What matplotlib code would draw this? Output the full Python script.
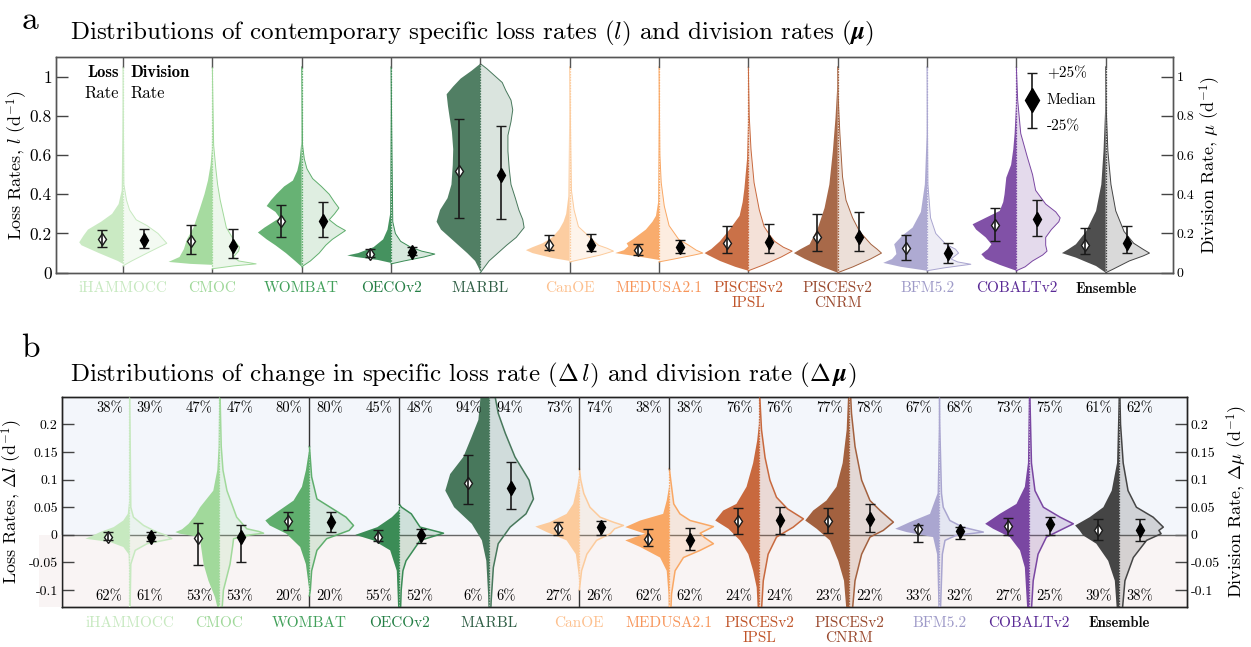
import numpy as np
import matplotlib
matplotlib.use("Agg")
import matplotlib.pyplot as plt
from matplotlib.patches import Rectangle
import matplotlib.transforms as mtransforms

plt.rcParams['font.family'] = 'serif'
plt.rcParams['font.serif'] = ['cmr10']
plt.rcParams['mathtext.fontset'] = 'cm'
plt.rcParams['axes.unicode_minus'] = False

# ---------------------------------------------------------------- data
models = ['iHAMMOCC', 'CMOC', 'WOMBAT', 'OECOv2', 'MARBL', 'CanOE', 'MEDUSA2.1',
          'PISCESv2\nIPSL', 'PISCESv2\nCNRM', 'BFM5.2', 'COBALTv2', 'Ensemble']
fill_colors = ['#c7e9c0', '#a1d99b', '#5fae6d', '#3b8c56', '#48785c', '#fccb9c',
               '#f9a865', '#c8693e', '#a3613f', '#aaa6d0', '#7a47a2', '#454545']
label_colors = ['#c7e9c0', '#a1d99b', '#41a05a', '#247f45', '#2f5e45', '#fdc08e',
                '#f7955a', '#c0552a', '#9a4a2f', '#9e9ac8', '#5a2a96', '#111111']

# contemporary rates (d^-1): medians and interquartile bounds
loss_med = [0.170, 0.160, 0.262, 0.095, 0.518, 0.143, 0.114, 0.153, 0.180, 0.126, 0.243, 0.143]
loss_q75 = [0.217, 0.245, 0.345, 0.120, 0.783, 0.190, 0.144, 0.240, 0.300, 0.190, 0.330, 0.230]
loss_q25 = [0.129, 0.094, 0.183, 0.080, 0.277, 0.116, 0.090, 0.099, 0.110, 0.065, 0.163, 0.095]
div_med = [0.168, 0.138, 0.264, 0.105, 0.496, 0.141, 0.129, 0.158, 0.184, 0.102, 0.272, 0.149]
div_q75 = [0.221, 0.224, 0.358, 0.130, 0.749, 0.195, 0.166, 0.248, 0.312, 0.150, 0.373, 0.240]
div_q25 = [0.124, 0.075, 0.183, 0.090, 0.273, 0.110, 0.100, 0.099, 0.110, 0.050, 0.188, 0.100]

# change in rates (d^-1): medians and interquartile bounds
dloss_med = [-0.004, -0.005, 0.025, -0.003, 0.093, 0.013, -0.007, 0.025, 0.025, 0.010, 0.016, 0.008]
dloss_q75 = [0.005, 0.021, 0.042, 0.009, 0.144, 0.023, 0.010, 0.048, 0.048, 0.018, 0.031, 0.028]
dloss_q25 = [-0.010, -0.055, 0.008, -0.012, 0.055, -0.001, -0.021, 0.001, 0.003, -0.013, -0.001, -0.010]
ddiv_med = [-0.004, -0.004, 0.024, 0.000, 0.084, 0.014, -0.009, 0.027, 0.028, 0.007, 0.019, 0.008]
ddiv_q75 = [0.005, 0.018, 0.042, 0.010, 0.132, 0.025, 0.013, 0.050, 0.055, 0.015, 0.032, 0.029]
ddiv_q25 = [-0.011, -0.049, 0.006, -0.015, 0.046, -0.001, -0.027, 0.001, 0.005, -0.007, 0.000, -0.012]

# share of area with increase / decrease (%)
pct_up_loss = [38, 47, 80, 45, 94, 73, 38, 76, 77, 67, 73, 61]
pct_up_div = [39, 47, 80, 48, 94, 74, 38, 76, 78, 68, 75, 62]
pct_dn_loss = [62, 53, 20, 55, 6, 27, 62, 24, 23, 33, 27, 39]
pct_dn_div = [61, 53, 20, 52, 6, 26, 62, 24, 22, 32, 25, 38]

# density profiles: (rate, relative density)
loss_shape_a = [
    [(0.045, 0), (0.06, 0.12), (0.10, 0.55), (0.14, 0.95), (0.155, 1.0), (0.19, 0.9), (0.22, 0.8), (0.26, 0.5), (0.30, 0.25), (0.35, 0.1), (0.42, 0.03), (1.05, 0)],
    [(0.04, 0), (0.045, 0.5), (0.055, 1.0), (0.065, 0.9), (0.08, 0.75), (0.12, 0.65), (0.17, 0.58), (0.23, 0.43), (0.33, 0.28), (0.40, 0.18), (0.47, 0.1), (0.55, 0.04), (0.63, 0.01), (1.05, 0)],
    [(0.03, 0), (0.06, 0.15), (0.10, 0.36), (0.14, 0.6), (0.17, 0.8), (0.205, 1.0), (0.23, 0.85), (0.28, 0.5), (0.31, 0.6), (0.34, 0.8), (0.37, 0.7), (0.40, 0.58), (0.44, 0.4), (0.47, 0.2), (0.52, 0.1), (0.57, 0.05), (0.66, 0.01), (1.05, 0)],
    [(0.05, 0), (0.065, 0.3), (0.08, 0.8), (0.088, 1.0), (0.10, 0.75), (0.13, 0.4), (0.17, 0.18), (0.22, 0.08), (0.30, 0.02), (1.05, 0)],
    [(0.005, 0), (0.03, 0.05), (0.06, 0.12), (0.10, 0.3), (0.14, 0.5), (0.18, 0.7), (0.22, 0.9), (0.26, 1.0), (0.32, 0.92), (0.38, 0.75), (0.45, 0.66), (0.55, 0.63), (0.63, 0.62), (0.72, 0.65), (0.79, 0.7), (0.85, 0.74), (0.91, 0.77), (0.95, 0.62), (0.99, 0.45), (1.03, 0.2), (1.066, 0)],
    [(0.06, 0), (0.075, 0.4), (0.10, 0.85), (0.115, 1.0), (0.13, 0.85), (0.15, 0.62), (0.18, 0.4), (0.22, 0.24), (0.26, 0.14), (0.30, 0.08), (0.39, 0.03), (1.05, 0)],
    [(0.065, 0), (0.08, 0.4), (0.095, 0.85), (0.10, 1.0), (0.115, 0.8), (0.135, 0.7), (0.15, 0.74), (0.17, 0.6), (0.22, 0.3), (0.26, 0.15), (0.29, 0.07), (0.36, 0.02), (1.05, 0)],
    [(0.01, 0), (0.03, 0.3), (0.06, 0.65), (0.09, 0.92), (0.10, 1.0), (0.12, 0.85), (0.16, 0.65), (0.22, 0.43), (0.29, 0.2), (0.36, 0.13), (0.43, 0.09), (0.58, 0.03), (0.75, 0.01), (1.05, 0)],
    [(0.0, 0), (0.03, 0.35), (0.07, 0.75), (0.10, 1.0), (0.12, 0.85), (0.145, 0.64), (0.23, 0.45), (0.33, 0.3), (0.45, 0.19), (0.62, 0.11), (0.79, 0.05), (0.95, 0.01), (1.05, 0)],
    [(0.01, 0), (0.03, 0.6), (0.05, 1.0), (0.07, 0.8), (0.095, 0.7), (0.12, 0.72), (0.145, 0.75), (0.19, 0.56), (0.23, 0.33), (0.31, 0.14), (0.45, 0.05), (0.7, 0.01), (1.05, 0)],
    [(0.01, 0), (0.04, 0.38), (0.07, 0.7), (0.094, 0.8), (0.12, 0.65), (0.145, 0.57), (0.18, 0.7), (0.22, 0.92), (0.247, 1.0), (0.28, 0.7), (0.315, 0.38), (0.36, 0.3), (0.40, 0.27), (0.485, 0.23), (0.55, 0.12), (0.63, 0.07), (0.71, 0.04), (0.85, 0.01), (1.05, 0)],
    [(0.0, 0), (0.034, 0.22), (0.06, 0.5), (0.077, 0.68), (0.10, 1.0), (0.12, 0.85), (0.145, 0.68), (0.21, 0.45), (0.315, 0.22), (0.45, 0.1), (0.62, 0.05), (0.85, 0.01), (1.05, 0)],
]
div_shape_a = [
    [(0.035, 0), (0.06, 0.2), (0.10, 0.55), (0.15, 1.0), (0.20, 0.8), (0.24, 0.55), (0.27, 0.3), (0.32, 0.15), (0.37, 0.08), (0.45, 0.02), (1.05, 0)],
    [(0.02, 0), (0.035, 0.5), (0.045, 1.0), (0.06, 0.6), (0.08, 0.48), (0.11, 0.6), (0.13, 0.62), (0.17, 0.48), (0.23, 0.32), (0.30, 0.25), (0.37, 0.18), (0.45, 0.12), (0.53, 0.08), (0.65, 0.03), (1.05, 0)],
    [(0.03, 0), (0.06, 0.2), (0.10, 0.4), (0.14, 0.55), (0.17, 0.7), (0.20, 0.9), (0.215, 1.0), (0.24, 0.8), (0.27, 0.63), (0.30, 0.75), (0.33, 0.85), (0.36, 0.75), (0.40, 0.63), (0.44, 0.45), (0.48, 0.25), (0.53, 0.12), (0.58, 0.06), (0.65, 0.02), (1.05, 0)],
    [(0.045, 0), (0.06, 0.3), (0.08, 0.75), (0.095, 1.0), (0.11, 0.7), (0.13, 0.45), (0.16, 0.22), (0.20, 0.1), (0.26, 0.04), (1.05, 0)],
    [(0.0, 0), (0.03, 0.1), (0.06, 0.2), (0.10, 0.4), (0.14, 0.6), (0.18, 0.82), (0.23, 1.0), (0.27, 0.97), (0.32, 0.88), (0.38, 0.8), (0.45, 0.7), (0.53, 0.66), (0.62, 0.63), (0.70, 0.63), (0.77, 0.7), (0.83, 0.74), (0.88, 0.7), (0.93, 0.58), (0.97, 0.5), (1.0, 0.35), (1.04, 0.15), (1.066, 0)],
    [(0.055, 0), (0.07, 0.3), (0.09, 0.7), (0.11, 1.0), (0.125, 0.85), (0.14, 0.66), (0.185, 0.44), (0.235, 0.2), (0.32, 0.1), (0.42, 0.04), (1.05, 0)],
    [(0.055, 0), (0.07, 0.35), (0.09, 0.8), (0.10, 1.0), (0.115, 0.85), (0.14, 0.68), (0.17, 0.45), (0.24, 0.23), (0.34, 0.12), (0.46, 0.05), (0.6, 0.02), (1.05, 0)],
    [(0.01, 0), (0.04, 0.35), (0.08, 0.75), (0.11, 1.0), (0.13, 0.8), (0.16, 0.6), (0.185, 0.51), (0.235, 0.36), (0.32, 0.25), (0.46, 0.13), (0.63, 0.06), (0.8, 0.02), (1.05, 0)],
    [(0.0, 0), (0.03, 0.35), (0.07, 0.75), (0.10, 1.0), (0.12, 0.9), (0.145, 0.76), (0.21, 0.5), (0.28, 0.34), (0.37, 0.19), (0.49, 0.11), (0.71, 0.05), (0.9, 0.01), (1.05, 0)],
    [(0.01, 0), (0.025, 0.4), (0.043, 1.0), (0.055, 0.7), (0.07, 0.55), (0.10, 0.72), (0.12, 0.65), (0.145, 0.43), (0.20, 0.2), (0.28, 0.08), (0.45, 0.02), (1.05, 0)],
    [(0.01, 0), (0.03, 0.2), (0.06, 0.37), (0.09, 0.6), (0.11, 0.7), (0.14, 0.67), (0.18, 0.67), (0.22, 0.8), (0.26, 0.97), (0.28, 1.0), (0.31, 0.9), (0.35, 0.67), (0.42, 0.44), (0.5, 0.37), (0.59, 0.25), (0.71, 0.1), (0.88, 0.03), (1.05, 0)],
    [(0.0, 0), (0.017, 0.16), (0.06, 0.54), (0.085, 0.85), (0.10, 1.0), (0.12, 0.85), (0.15, 0.64), (0.21, 0.42), (0.315, 0.23), (0.45, 0.12), (0.62, 0.05), (0.85, 0.01), (1.05, 0)],
]
loss_shape_b = [
    [(-0.2, 0), (-0.06, 0.01), (-0.035, 0.02), (-0.022, 0.14), (-0.013, 0.44), (-0.007, 1.0), (0.0, 0.8), (0.005, 0.67), (0.014, 0.36), (0.026, 0.14), (0.038, 0.04), (0.06, 0.01), (0.3, 0)],
    [(-0.2, 0), (-0.13, 0.05), (-0.113, 0.1), (-0.083, 0.25), (-0.053, 0.36), (-0.02, 0.42), (-0.004, 0.44), (0.002, 0.9), (0.005, 1.0), (0.01, 0.85), (0.02, 0.7), (0.035, 0.55), (0.05, 0.44), (0.08, 0.14), (0.117, 0.05), (0.16, 0.02), (0.3, 0)],
    [(-0.1, 0), (-0.09, 0.02), (-0.053, 0.08), (-0.022, 0.21), (0.002, 0.52), (0.017, 0.9), (0.026, 1.0), (0.041, 0.74), (0.062, 0.36), (0.087, 0.17), (0.117, 0.08), (0.153, 0.01), (0.16, 0)],
    [(-0.2, 0), (-0.065, 0.06), (-0.028, 0.21), (-0.01, 0.59), (0.0, 1.0), (0.014, 0.5), (0.032, 0.17), (0.044, 0.02), (0.05, 0)],
    [(-0.2, 0), (-0.107, 0.03), (-0.047, 0.07), (-0.01, 0.17), (0.02, 0.4), (0.05, 0.8), (0.08, 1.0), (0.11, 0.89), (0.141, 0.59), (0.178, 0.4), (0.208, 0.25), (0.25, 0.2), (0.3, 0.1)],
    [(-0.09, 0), (-0.07, 0.02), (-0.035, 0.08), (-0.01, 0.29), (0.005, 0.74), (0.015, 1.0), (0.023, 0.67), (0.038, 0.29), (0.056, 0.14), (0.087, 0.05), (0.11, 0)],
    [(-0.2, 0), (-0.107, 0.02), (-0.065, 0.06), (-0.041, 0.21), (-0.022, 0.66), (-0.01, 1.0), (0.002, 0.55), (0.014, 1.0), (0.026, 0.66), (0.038, 0.14), (0.062, 0.06), (0.09, 0)],
    [(-0.2, 0), (-0.095, 0.06), (-0.065, 0.14), (-0.035, 0.25), (-0.01, 0.44), (0.011, 0.7), (0.026, 1.0), (0.044, 0.82), (0.056, 0.52), (0.087, 0.29), (0.13, 0.14), (0.17, 0.05), (0.2, 0.01), (0.25, 0)],
    [(-0.2, 0), (-0.083, 0.12), (-0.047, 0.25), (-0.01, 0.44), (0.011, 0.74), (0.026, 1.0), (0.044, 0.82), (0.062, 0.52), (0.087, 0.29), (0.13, 0.15), (0.19, 0.06), (0.25, 0.03), (0.3, 0)],
    [(-0.2, 0), (-0.035, 0.05), (-0.004, 0.14), (0.005, 0.74), (0.011, 1.0), (0.023, 0.67), (0.038, 0.21), (0.062, 0.1), (0.075, 0.04), (0.2, 0.01), (0.3, 0)],
    [(-0.2, 0), (-0.059, 0.1), (-0.028, 0.21), (-0.004, 0.44), (0.011, 0.82), (0.02, 1.0), (0.038, 0.67), (0.056, 0.29), (0.087, 0.1), (0.13, 0.03), (0.3, 0)],
    [(-0.2, 0), (-0.083, 0.1), (-0.047, 0.25), (-0.016, 0.52), (-0.001, 0.82), (0.008, 0.9), (0.017, 1.0), (0.032, 0.67), (0.05, 0.36), (0.08, 0.17), (0.13, 0.05), (0.3, 0)],
]
div_shape_b = [
    [(-0.2, 0), (-0.053, 0.03), (-0.028, 0.13), (-0.016, 0.4), (-0.007, 0.96), (0.0, 0.8), (0.005, 0.62), (0.017, 0.32), (0.032, 0.09), (0.05, 0.03), (0.3, 0)],
    [(-0.2, 0), (-0.1, 0.09), (-0.053, 0.24), (-0.02, 0.3), (-0.007, 0.32), (0.0, 0.7), (0.003, 1.0), (0.006, 0.9), (0.011, 0.62), (0.032, 0.39), (0.056, 0.28), (0.08, 0.17), (0.117, 0.08), (0.16, 0.04), (0.3, 0)],
    [(-0.11, 0), (-0.1, 0.02), (-0.065, 0.05), (-0.028, 0.17), (-0.007, 0.39), (0.008, 0.9), (0.017, 1.0), (0.032, 0.83), (0.05, 0.47), (0.065, 0.17), (0.105, 0.05), (0.16, 0)],
    [(-0.2, 0), (-0.1, 0.04), (-0.065, 0.08), (-0.047, 0.15), (-0.01, 0.47), (0.003, 1.0), (0.014, 0.47), (0.038, 0.27), (0.05, 0.05), (0.055, 0)],
    [(-0.2, 0), (-0.12, 0.04), (-0.059, 0.09), (-0.016, 0.2), (0.014, 0.47), (0.038, 0.83), (0.065, 1.0), (0.099, 0.9), (0.141, 0.58), (0.184, 0.36), (0.22, 0.2), (0.25, 0.13), (0.3, 0.05)],
    [(-0.1, 0), (-0.065, 0.05), (-0.035, 0.17), (-0.01, 0.39), (0.002, 0.7), (0.011, 0.8), (0.017, 1.0), (0.023, 0.77), (0.032, 0.47), (0.05, 0.24), (0.075, 0.1), (0.1, 0.03), (0.12, 0)],
    [(-0.2, 0), (-0.107, 0.05), (-0.065, 0.13), (-0.041, 0.32), (-0.028, 0.7), (-0.016, 1.0), (-0.005, 0.8), (0.003, 0.7), (0.015, 1.0), (0.026, 0.47), (0.038, 0.24), (0.056, 0.1), (0.1, 0.03), (0.12, 0)],
    [(-0.2, 0), (-0.083, 0.09), (-0.035, 0.2), (-0.004, 0.39), (0.014, 0.77), (0.029, 1.0), (0.047, 0.64), (0.068, 0.39), (0.099, 0.24), (0.14, 0.13), (0.19, 0.05), (0.25, 0.01), (0.3, 0)],
    [(-0.2, 0), (-0.083, 0.13), (-0.035, 0.28), (-0.004, 0.47), (0.008, 0.77), (0.023, 1.0), (0.044, 0.7), (0.062, 0.47), (0.099, 0.28), (0.16, 0.13), (0.22, 0.05), (0.3, 0)],
    [(-0.2, 0), (-0.035, 0.07), (-0.01, 0.13), (-0.001, 0.38), (0.005, 1.0), (0.014, 0.53), (0.026, 0.24), (0.05, 0.09), (0.075, 0.05), (0.2, 0.01), (0.3, 0)],
    [(-0.2, 0), (-0.083, 0.09), (-0.035, 0.2), (-0.004, 0.39), (0.011, 0.77), (0.02, 1.0), (0.032, 0.7), (0.05, 0.32), (0.08, 0.13), (0.13, 0.05), (0.3, 0)],
    [(-0.2, 0), (-0.083, 0.13), (-0.041, 0.32), (-0.01, 0.62), (0.002, 0.95), (0.008, 0.9), (0.014, 1.0), (0.032, 0.77), (0.05, 0.39), (0.08, 0.2), (0.13, 0.09), (0.2, 0.03), (0.3, 0)],
]

# ---------------------------------------------------------------- style
HALF = 0.49          # maximum half-width of a violin (x units)
OFF = 0.235          # horizontal offset of the median markers
x_pos = np.arange(1, len(models) + 1)
XLIM = (0.25, len(models) + 0.75)


def draw_half(ax, x0, shape, side, color, face_alpha, edge_lw, z):
    y = np.array([p[0] for p in shape])
    w = np.array([p[1] for p in shape]) * HALF
    xs = x0 + side * w
    ax.fill_betweenx(y, x0, xs, facecolor=color, alpha=face_alpha, lw=0, zorder=z)
    if edge_lw:
        ax.plot(xs, y, color=color, lw=edge_lw, zorder=z + 0.1, solid_joinstyle='round')


def draw_divider(ax, x0, lo, hi, ylim, color, dark):
    ax.plot([x0, x0], [ylim[0], lo], color=dark, lw=1.0, zorder=3)
    ax.plot([x0, x0], [hi, ylim[1]], color=dark, lw=1.0, zorder=3)
    ax.plot([x0, x0], [lo, hi], color=color, lw=0.9, ls=(0, (1.2, 1.0)), zorder=3)


def draw_stats(ax, x, med, q25, q75, filled, ms=6.5):
    yerr = [[med - q25], [q75 - med]]
    ax.errorbar([x], [med], yerr=yerr, fmt='none', ecolor='#1a1a1a', elinewidth=1.2,
                capsize=3.3, capthick=1.0, zorder=8)
    if filled:
        ax.plot([x], [med], marker='d', ms=ms + 0.5, mfc='black', mec='black', zorder=9)
    else:
        ax.plot([x], [med], marker='d', ms=ms, mfc='white', mec='#1a1a1a', mew=1.0, zorder=7)


def model_labels(ax, ypos):
    trans = mtransforms.blended_transform_factory(ax.transData, ax.transAxes)
    for i, name in enumerate(models):
        kw = dict(fontsize=11, color=label_colors[i], ha='center', va='top',
                  transform=trans, linespacing=1.1)
        if name == 'Ensemble':
            kw['family'] = 'cmb10'
            kw['fontsize'] = 10.5
        ax.text(x_pos[i], ypos, name, **kw)


def style_axis(ax, twin, ylim, ticks, ticklabels, spine_col, lsize, rsize):
    for a in (ax, twin):
        a.set_ylim(*ylim)
        a.set_xlim(*XLIM)
        a.set_yticks(ticks)
        for s in a.spines.values():
            s.set_color(spine_col)
            s.set_linewidth(1.0)
    ax.set_yticklabels(ticklabels, fontsize=lsize)
    twin.set_yticklabels(ticklabels, fontsize=rsize)
    ax.tick_params(axis='y', direction='in', length=8.5, width=1.0, color='#444444', pad=3)
    twin.tick_params(axis='y', direction='in', length=8.5, width=1.0, color='#444444', pad=3)
    ax.set_xticks([])
    twin.set_xticks([])


fig = plt.figure(figsize=(12.51, 6.47), dpi=100)

# ---------------------------------------------------------------- panel a
axa = fig.add_axes([56 / 1251, 1 - 272.7 / 647, 1116.7 / 1251, 215.7 / 647])
axa2 = axa.twinx()
ylim_a = (0, 1.1)
style_axis(axa, axa2, ylim_a, [0, 0.2, 0.4, 0.6, 0.8, 1.0],
           ['0', '0.2', '0.4', '0.6', '0.8', '1'], '#555555', 12.5, 10)
axa.set_zorder(axa2.get_zorder() + 1)
axa.patch.set_visible(False)

for i, x0 in enumerate(x_pos):
    c = fill_colors[i]
    draw_half(axa, x0, loss_shape_a[i], -1, c, 0.95, 0, 2)
    draw_half(axa, x0, div_shape_a[i], +1, c, 0.2, 0.7, 2)
    lo = min(loss_shape_a[i][0][0], div_shape_a[i][0][0])
    hi = max(loss_shape_a[i][-1][0], div_shape_a[i][-1][0])
    draw_divider(axa, x0, lo, hi, ylim_a, c, '#555555')
    draw_stats(axa, x0 - OFF, loss_med[i], loss_q25[i], loss_q75[i], False)
    draw_stats(axa, x0 + OFF, div_med[i], div_q25[i], div_q75[i], True)

axa.set_ylabel('Loss Rates, $l$ (d$^{-1}$)', fontsize=13)
axa.yaxis.set_label_coords(-0.0235, 0.5)
axa2.set_ylabel('Division Rate, $\\mu$ (d$^{-1}$)', fontsize=13, rotation=90)
axa2.yaxis.set_label_coords(1.0227, 0.5)
model_labels(axa, -0.042)

# "Loss Rate | Division Rate" key
axa.text(1 - 0.045, 1.02, 'Loss', family='cmb10', fontsize=12, ha='right', va='center', zorder=10)
axa.text(1 - 0.045, 0.915, 'Rate', fontsize=12, ha='right', va='center', zorder=10)
axa.text(1 + 0.08, 1.02, 'Division', family='cmb10', fontsize=12, ha='left', va='center', zorder=10)
axa.text(1 + 0.08, 0.915, 'Rate', fontsize=12, ha='left', va='center', zorder=10)

# quartile key
key_x = 11.18
axa.errorbar([key_x], [0.883], yerr=[[0.883 - 0.74], [1.02 - 0.883]], fmt='none',
             ecolor='#1a1a1a', elinewidth=1.2, capsize=3.3, capthick=1.0, zorder=8)
axa.plot([key_x], [0.883], marker='d', ms=12, color='black', zorder=9)
axa.text(11.34, 1.015, '+25%', fontsize=11, ha='left', va='center')
axa.text(11.34, 0.88, 'Median', fontsize=11, ha='left', va='center')
axa.text(11.34, 0.745, '-25%', fontsize=11, ha='left', va='center')

# ---------------------------------------------------------------- panel b
axb = fig.add_axes([62 / 1251, 1 - 606.7 / 647, 1124.7 / 1251, 210 / 647])
axb2 = axb.twinx()
ylim_b = (-0.13, 0.25)
style_axis(axb, axb2, ylim_b, [-0.1, -0.05, 0, 0.05, 0.1, 0.15, 0.2],
           ['-0.1', '-0.05', '0', '0.05', '0.1', '0.15', '0.2'], '#222222', 10, 10)
axb.set_zorder(axb2.get_zorder() + 1)
axb.patch.set_visible(False)
axb2.axhspan(0, ylim_b[1], color='#f3f6fb', lw=0, zorder=0)
axb2.axhspan(ylim_b[0], 0, color='#f9f4f4', lw=0, zorder=0)
axb.add_patch(Rectangle((-0.0205, 0), 0.0205, (0 - ylim_b[0]) / (ylim_b[1] - ylim_b[0]),
                        transform=axb.transAxes, clip_on=False, facecolor='#f9f4f4',
                        lw=0, zorder=0))
axb.axhline(0, color='#666666', lw=1.0, zorder=1)

for i, x0 in enumerate(x_pos):
    c = fill_colors[i]
    draw_half(axb, x0, loss_shape_b[i], -1, c, 1.0, 0, 2)
    draw_half(axb, x0, div_shape_b[i], +1, c, 0.2, 1.1, 2)
    lo = max(min(loss_shape_b[i][0][0], div_shape_b[i][0][0]), ylim_b[0])
    hi = min(max(loss_shape_b[i][-1][0], div_shape_b[i][-1][0]), ylim_b[1])
    draw_divider(axb, x0, lo, hi, ylim_b, c, '#333333')
    draw_stats(axb, x0 - OFF, dloss_med[i], dloss_q25[i], dloss_q75[i], False)
    draw_stats(axb, x0 + OFF, ddiv_med[i], ddiv_q25[i], ddiv_q75[i], True)
    axb.text(x0 - 0.075, 0.2296, f'{pct_up_loss[i]}%', fontsize=10.5, ha='right', va='center', zorder=10)
    axb.text(x0 + 0.08, 0.2296, f'{pct_up_div[i]}%', fontsize=10.5, ha='left', va='center', zorder=10)
    axb.text(x0 - 0.075, -0.112, f'{pct_dn_loss[i]}%', fontsize=10.5, ha='right', va='center', zorder=10)
    axb.text(x0 + 0.08, -0.112, f'{pct_dn_div[i]}%', fontsize=10.5, ha='left', va='center', zorder=10)

axb.set_ylabel('Loss Rates, $\\Delta l$ (d$^{-1}$)', fontsize=13)
axb.yaxis.set_label_coords(-0.033, 0.5)
axb2.set_ylabel('Division Rate, $\\Delta \\mu$ (d$^{-1}$)', fontsize=13, rotation=90)
axb2.yaxis.set_label_coords(1.034, 0.5)
model_labels(axb, -0.045)

# ---------------------------------------------------------------- titles
fig.text(30 / 1251, 1 - 20 / 647, 'a', fontsize=24, ha='center', va='center')
fig.text(70 / 1251, 1 - 33 / 647,
         'Distributions of contemporary specific loss rates ($l$) and division rates ($\\boldsymbol{\\mu}$)',
         fontsize=18, ha='left', va='center')
fig.text(30 / 1251, 1 - 348 / 647, 'b', fontsize=24, ha='center', va='center')
fig.text(70 / 1251, 1 - 375 / 647,
         'Distributions of change in specific loss rate ($\\Delta\\, l$) and division rate ($\\Delta\\, \\boldsymbol{\\mu}$)',
         fontsize=18, ha='left', va='center')

fig.savefig('out.png', dpi=100)
